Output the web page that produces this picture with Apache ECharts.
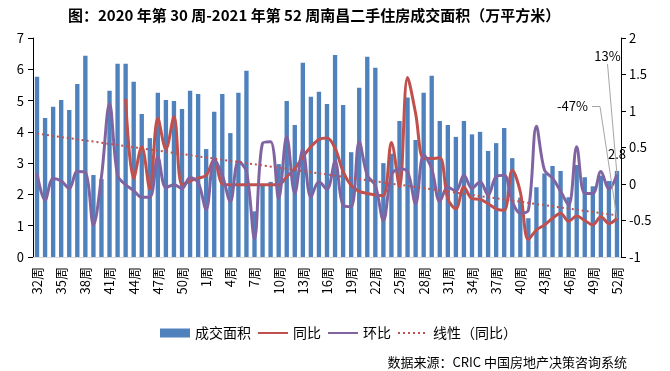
<!DOCTYPE html>
<html><head><meta charset="utf-8">
<script src="https://cdn.jsdelivr.net/npm/echarts@6/dist/echarts.min.js"></script>
<style>html,body{margin:0;padding:0;background:#fff}#c{width:670px;height:371px}</style>
</head><body><div id="c"></div>
<script>
const categories = [
 '32周','33周','34周','35周','36周','37周','38周','39周','40周','41周','42周','43周','44周','45周','46周','47周','48周','49周','50周','51周','52周',
 '1周','2周','3周','4周','5周','6周','7周','8周','9周','10周','11周','12周','13周','14周','15周','16周','17周','18周','19周','20周',
 '21周','22周','23周','24周','25周','26周','27周','28周','29周','30周','31周','32周','33周','34周','35周','36周','37周','38周','39周','40周',
 '41周','42周','43周','44周','45周','46周','47周','48周','49周','50周','51周','52周'
];
// 成交面积（万平方米）
const area = [5.76,4.44,4.80,5.02,4.70,5.53,6.43,2.62,2.49,5.31,
 6.18,6.18,5.60,4.57,3.80,5.25,5.02,4.99,4.73,5.31,
 5.21,3.45,4.64,5.21,3.96,5.25,5.95,1.46,2.30,2.40,
 2.97,4.99,4.22,6.21,5.12,5.28,4.89,6.46,4.86,3.35,
 5.41,6.40,6.05,3.00,3.30,4.35,5.10,3.74,5.25,5.79,
 4.35,4.22,3.84,4.35,3.92,4.00,3.39,3.64,4.12,3.16,
 1.90,1.24,2.23,2.67,2.91,2.75,1.91,2.94,2.55,2.26,
 2.60,2.43,2.75];
// 同比
const yoy = [null,null,null,null,null,null,null,null,null,null,null,
 1.165,0.076,0.51,-0.07,0.90,0.48,0.92,
 -0.01,0.04,0.08,0.12,0.34,0.0,-0.01,-0.01,-0.01,-0.01,-0.01,-0.01,-0.01,0.10,0.21,0.37,0.51,0.61,
 0.63,0.49,0.17,-0.02,-0.10,-0.13,-0.15,-0.16,0.57,-0.04,1.46,0.97,0.35,0.35,0.36,-0.20,-0.34,-0.04,
 -0.20,-0.21,-0.27,-0.34,-0.36,0.19,-0.11,-0.76,-0.63,-0.56,-0.47,-0.40,-0.51,-0.44,-0.50,-0.56,-0.45,-0.54,-0.47];
// 环比
const mom = [0.145,-0.22,0.076,0.04,-0.06,0.17,0.16,-0.56,0.10,1.10,0.12,-0.01,-0.09,-0.18,-0.18,0.37,-0.05,-0.01,
 -0.06,0.09,0.02,-0.35,0.34,0.12,-0.24,0.31,0.17,-0.75,0.56,0.58,-0.20,0.65,-0.13,0.47,-0.18,0.03,
 -0.07,0.31,-0.29,-0.31,0.58,0.12,-0.02,-0.50,0.12,0.21,0.17,-0.27,0.40,0.21,-0.24,-0.04,-0.10,0.12,
 -0.06,0.03,-0.15,0.10,0.12,-0.24,-0.40,-0.36,0.79,0.19,0.08,-0.10,-0.29,0.51,-0.13,-0.13,0.17,-0.07,0.13];
// 线性（同比）趋势线端点
const trendStart = 0.69, trendEnd = -0.43;
const leftTicks = {min:0, max:7, interval:1};
const rightTicks = {min:-1, max:2, interval:0.5};

const FONT = '"Noto Sans CJK SC", sans-serif';
const last = categories.length - 1;
const trend = categories.map((c, i) => i === 0 ? trendStart : (i === last ? trendEnd : null));
const areaData = area.map((v, i) => i === last ? {value: v, label: {show: true}} : v);

const chart = echarts.init(document.getElementById('c'), null, {renderer: 'canvas'});
const noSym = {opacity: 0};
const option = {
  animation: false,
  backgroundColor: '#fff',
  textStyle: {fontFamily: FONT},
  title: [
    {text: '图：2020 年第 30 周-2021 年第 52 周南昌二手住房成交面积（万平方米）', left: 63, top: 3,
     textStyle: {fontSize: 15, fontWeight: 'bold', color: '#000', fontFamily: FONT}},
    {text: '数据来源：CRIC 中国房地产决策咨询系统', right: 38, top: 351,
     textStyle: {fontSize: 13, fontWeight: 'normal', color: '#000', fontFamily: FONT}}
  ],
  legend: {
    left: 155, top: 321, itemWidth: 30, itemHeight: 9, itemGap: 6,
    textStyle: {fontSize: 14, color: '#000', fontFamily: FONT},
    data: [{name: '成交面积', icon: 'rect'},
           {name: '同比', itemStyle: noSym},
           {name: '环比', itemStyle: noSym},
           {name: '线性（同比）', itemStyle: noSym}]
  },
  grid: {left: 33, right: 49, top: 38, bottom: 114},
  xAxis: {
    type: 'category', data: categories, boundaryGap: true,
    axisLine: {lineStyle: {color: '#d9d9d9', width: 1}},
    axisTick: {show: false},
    axisLabel: {rotate: 90, interval: 2, fontSize: 13, color: '#000', margin: 10, fontFamily: FONT}
  },
  yAxis: [
    {type: 'value', min: leftTicks.min, max: leftTicks.max, interval: leftTicks.interval,
     axisLine: {show: true, lineStyle: {color: '#000'}},
     axisTick: {show: true, length: 5, lineStyle: {color: '#000'}},
     splitLine: {show: false},
     axisLabel: {fontSize: 13, color: '#000', margin: 9, fontFamily: FONT}},
    {type: 'value', min: rightTicks.min, max: rightTicks.max, interval: rightTicks.interval, position: 'right',
     axisLine: {show: true, lineStyle: {color: '#000'}},
     axisTick: {show: true, length: 5, lineStyle: {color: '#000'}},
     splitLine: {show: false},
     axisLabel: {fontSize: 13, color: '#000', margin: 8, fontFamily: FONT}}
  ],
  series: [
    {name: '成交面积', type: 'bar', data: areaData, barWidth: '54%',
     itemStyle: {color: '#4F81BD'},
     label: {show: false, position: 'top', distance: 10, fontSize: 13, color: '#000', fontFamily: FONT,
             formatter: p => Number(p.value).toFixed(1)}},
    {name: '同比', type: 'line', yAxisIndex: 1, data: yoy, smooth: 0.35, symbol: 'none',
     connectNulls: false, lineStyle: {color: '#C0504D', width: 3}, itemStyle: {color: '#C0504D'}},
    {name: '环比', type: 'line', yAxisIndex: 1, data: mom, smooth: 0.35, symbol: 'none',
     lineStyle: {color: '#8064A2', width: 3}, itemStyle: {color: '#8064A2'}},
    {name: '线性（同比）', type: 'line', yAxisIndex: 1, data: trend, connectNulls: true, symbol: 'none',
     lineStyle: {color: '#C0504D', width: 2, type: [2, 3]}, itemStyle: {color: '#C0504D'}}
  ]
};
chart.setOption(option);

const pct = v => Math.round(v * 100) + '%';
const pMom = chart.convertToPixel({xAxisIndex: 0, yAxisIndex: 1}, [last, mom[last]]);
const pYoy = chart.convertToPixel({xAxisIndex: 0, yAxisIndex: 1}, [last, yoy[last]]);
const lblFont = '13px ' + FONT;
chart.setOption({
  graphic: [
    {type: 'text', x: 607.5, y: 56, z: 10, style: {text: pct(mom[last]), align: 'center', verticalAlign: 'middle', font: lblFont, fill: '#000'}},
    {type: 'polyline', z: 10, shape: {points: [[607.5, 64], [pMom[0], pMom[1]]]}, style: {stroke: '#a6a6a6', lineWidth: 1, fill: null}},
    {type: 'text', x: 588, y: 106.5, z: 10, style: {text: pct(yoy[last]), align: 'right', verticalAlign: 'middle', font: lblFont, fill: '#000'}},
    {type: 'polyline', z: 10, shape: {points: [[592, 106.5], [600, 106.5], [pYoy[0], pYoy[1]]]}, style: {stroke: '#a6a6a6', lineWidth: 1, fill: null}}
  ]
});
</script></body></html>
